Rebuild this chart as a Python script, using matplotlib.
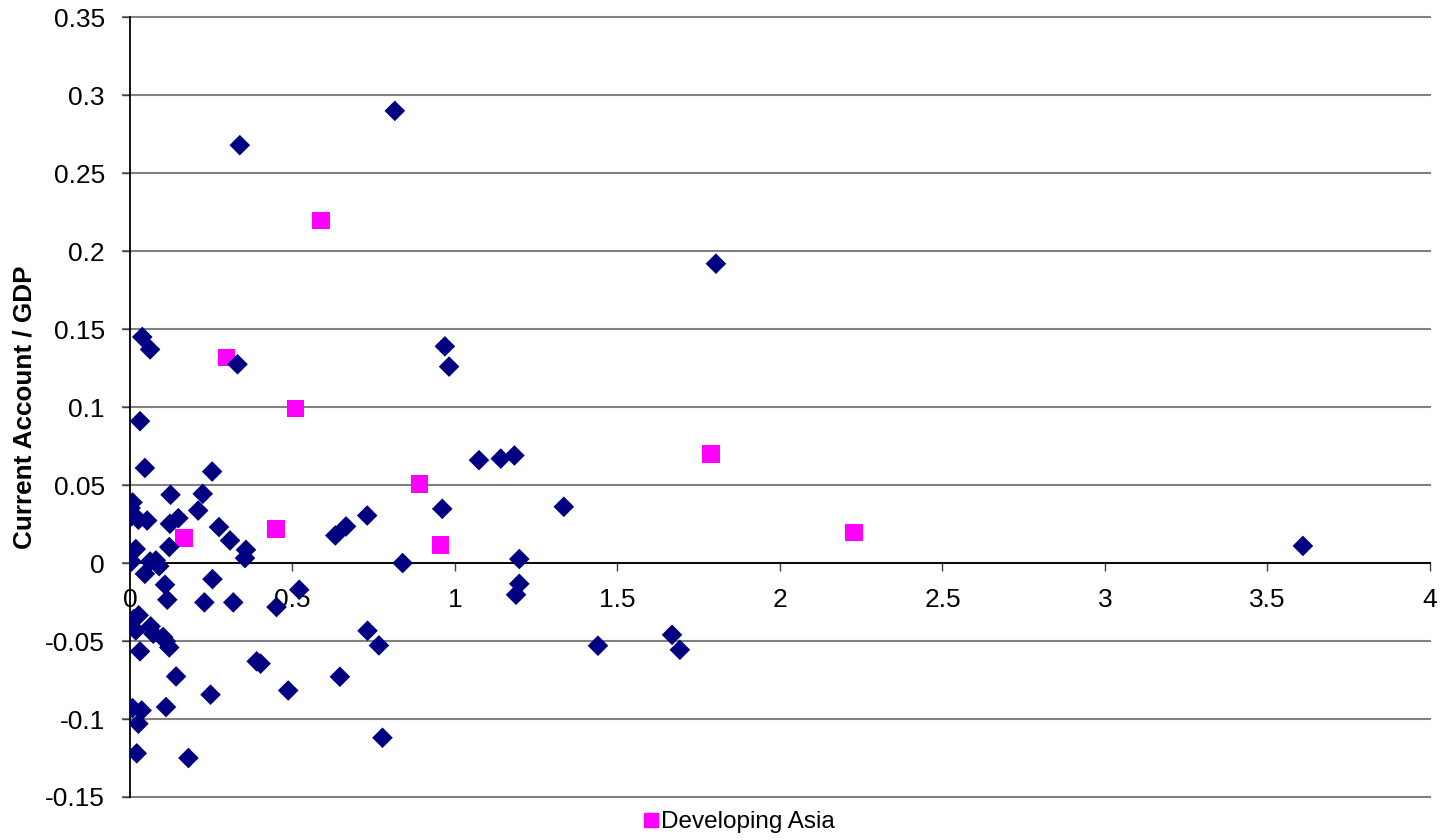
import matplotlib
matplotlib.use("Agg")
import matplotlib.pyplot as plt
from matplotlib.lines import Line2D

plt.rcParams['font.family'] = ['Liberation Sans', 'DejaVu Sans']

# all countries (x, current account / GDP)
outros_x = [0.338, 0.815, 1.803, 0.038, 0.062, 0.331, 0.969, 0.982, 0.031, 0.046,
            1.074, 1.141, 1.183, 0.253, 0.125, 0.224, 0.008, 0.002, 0.005, 0.026,
            0.053, 0.210, 0.149, 0.123, 0.274, 0.308, 0.357, 0.354, 0.121, 0.018,
            0.005, 0.062, 0.080, 0.090, 0.046, 0.108, 0.115, 0.254, 0.229, 0.318,
            0.521, 0.451, 0.027, 0.012, 0.018, 0.064, 0.072, 0.102, 0.111, 0.121,
            0.031, 0.142, 0.248, 0.390, 0.402, 0.487, 0.008, 0.036, 0.026, 0.111,
            0.021, 0.180, 0.961, 0.730, 0.665, 0.632, 0.839, 1.198, 1.198, 1.188,
            0.731, 0.766, 0.646, 0.777, 1.335, 1.440, 1.668, 1.692, 3.609]
outros_y = [0.268, 0.290, 0.192, 0.145, 0.137, 0.1275, 0.139, 0.126, 0.091, 0.061,
            0.066, 0.067, 0.069, 0.0587, 0.0438, 0.0444, 0.0389, 0.0353, 0.030, 0.0278,
            0.0273, 0.0337, 0.0288, 0.0252, 0.0231, 0.0145, 0.0085, 0.0032, 0.0103, 0.009,
            0.001, 0.001, 0.0017, -0.002, -0.0069, -0.0139, -0.0235, -0.0103, -0.0252, -0.0252,
            -0.0171, -0.0282, -0.0335, -0.0359, -0.0432, -0.0406, -0.0453, -0.0474, -0.0502, -0.0541,
            -0.0566, -0.0727, -0.0844, -0.063, -0.0645, -0.0817, -0.093, -0.0945, -0.103, -0.0923,
            -0.122, -0.125, 0.0348, 0.0305, 0.0235, 0.0177, 0.0, 0.0026, -0.0133, -0.0203,
            -0.0434, -0.0528, -0.0729, -0.112, 0.0361, -0.053, -0.046, -0.0556, 0.011]

# developing Asia
asia_x = [0.166, 0.297, 0.449, 0.510, 0.588, 0.890, 0.955, 1.788, 2.228]
asia_y = [0.016, 0.132, 0.0218, 0.0993, 0.2195, 0.0508, 0.0117, 0.070, 0.0195]

xticks = [0, 0.5, 1, 1.5, 2, 2.5, 3, 3.5, 4]
xlabels = ['0', '0.5', '1', '1.5', '2', '2.5', '3', '3.5', '4']
yticks = [-0.15, -0.1, -0.05, 0, 0.05, 0.1, 0.15, 0.2, 0.25, 0.3, 0.35]
ylabels = ['-0.15', '-0.1', '-0.05', '0', '0.05', '0.1', '0.15', '0.2', '0.25', '0.3', '0.35']

fig = plt.figure(figsize=(14.55, 8.4), dpi=100)
ax = fig.add_axes([0.0893, 0.0512, 0.8935, 0.9282])

ax.scatter(asia_x, asia_y, marker='s', s=12.5 ** 2, color='#FF00FF',
           edgecolors='none', zorder=3)
ax.scatter(outros_x, outros_y, marker='D', s=10.5 ** 2, color='#000080',
           edgecolors='none', zorder=4)

ax.set_xlim(0, 4)
ax.set_ylim(-0.15, 0.35)

# grid lines (drawn by hand so they run a bit past the left axis)
for v in yticks:
    ax.plot([-0.02, 4], [v, v], color='#808080', lw=1.5, zorder=1, clip_on=False)

ax.spines['top'].set_visible(False)
ax.spines['right'].set_visible(False)
ax.spines['bottom'].set_position(('data', 0))
ax.spines['bottom'].set_zorder(2)
ax.spines['left'].set_linewidth(1.3)
ax.spines['bottom'].set_linewidth(1.3)

ax.set_xticks(xticks)
ax.set_xticklabels(xlabels)
ax.set_yticks(yticks)
ax.set_yticklabels(ylabels)
ax.tick_params(axis='x', direction='out', length=6, width=1, colors='#404040',
               labelcolor='black', labelsize=19, pad=12)
ax.tick_params(axis='y', direction='out', length=6, width=1, colors='#404040',
               labelcolor='black', labelsize=19, pad=12)

ax.set_ylabel('Current Account / GDP', fontsize=18.8, fontweight='bold')
ax.yaxis.set_label_coords(-0.072, 0.5)

marca = Line2D([], [], marker='s', linestyle='none', color='#FF00FF', markersize=10.5)
fig.legend([marca], ['Developing Asia'], loc='center', bbox_to_anchor=(0.508, 0.021),
           frameon=False, fontsize=17.5, handlelength=0.6, handletextpad=0.1,
           borderpad=0)

fig.savefig('out.png', dpi=100)
